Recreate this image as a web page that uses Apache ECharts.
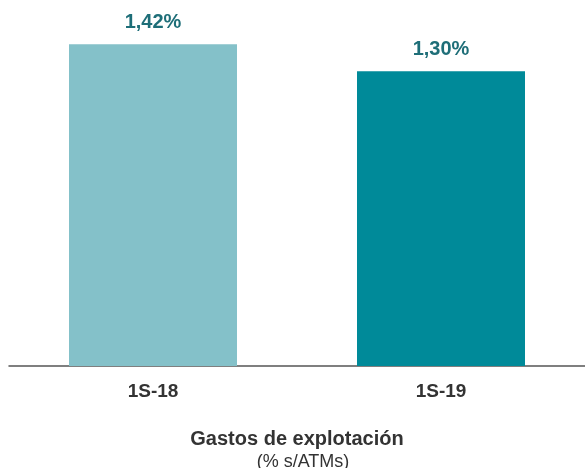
<!DOCTYPE html>
<html>
<head>
<meta charset="utf-8">
<script src="https://cdn.jsdelivr.net/npm/echarts@6/dist/echarts.min.js"></script>
<style>html,body{margin:0;padding:0;background:#fff}#c{width:585px;height:468px}</style>
</head>
<body>
<div id="c"></div>
<script>
var categories = ['1S-18', '1S-19'];
var values = [1.42, 1.30];
var barColors = ['#84C1C9', '#008A99'];
var titleText = 'Gastos de explotación';
var subtitleText = '(% s/ATMs)';

var chart = echarts.init(document.getElementById('c'));
chart.setOption({
  animation: false,
  textStyle: { fontFamily: 'Liberation Sans, Arial, sans-serif' },
  title: [
    { text: titleText, left: 292, top: 424, textAlign: 'center',
      textStyle: { fontSize: 20, fontWeight: 'bold', color: '#333333', fontFamily: 'Liberation Sans' } },
    { text: subtitleText, left: 298, top: 448, textAlign: 'center',
      textStyle: { fontSize: 18, fontWeight: 'normal', color: '#333333', fontFamily: 'Liberation Sans' } }
  ],
  grid: { left: 9, width: 579, top: 26, bottom: 102, containLabel: false },
  xAxis: {
    type: 'category',
    data: categories,
    axisLine: { show: true, lineStyle: { color: '#555555', width: 1.5 } },
    axisTick: { show: false },
    axisLabel: { margin: 16, fontSize: 19, fontWeight: 'bold', color: '#333333', fontFamily: 'Liberation Sans' }
  },
  yAxis: {
    type: 'value', min: 0, max: 1.5,
    show: false,
    splitLine: { show: false }
  },
  series: [{
    type: 'bar',
    barWidth: 168,
    data: values.map(function (v, i) { return { value: v, itemStyle: { color: barColors[i] } }; }),
    label: {
      show: true, position: 'top', distance: 12,
      fontSize: 20, fontWeight: 'bold', color: '#1E6E78', fontFamily: 'Liberation Sans',
      formatter: function (p) { return p.value.toFixed(2).replace('.', ',') + '%'; }
    }
  }]
});
</script>
</body>
</html>
